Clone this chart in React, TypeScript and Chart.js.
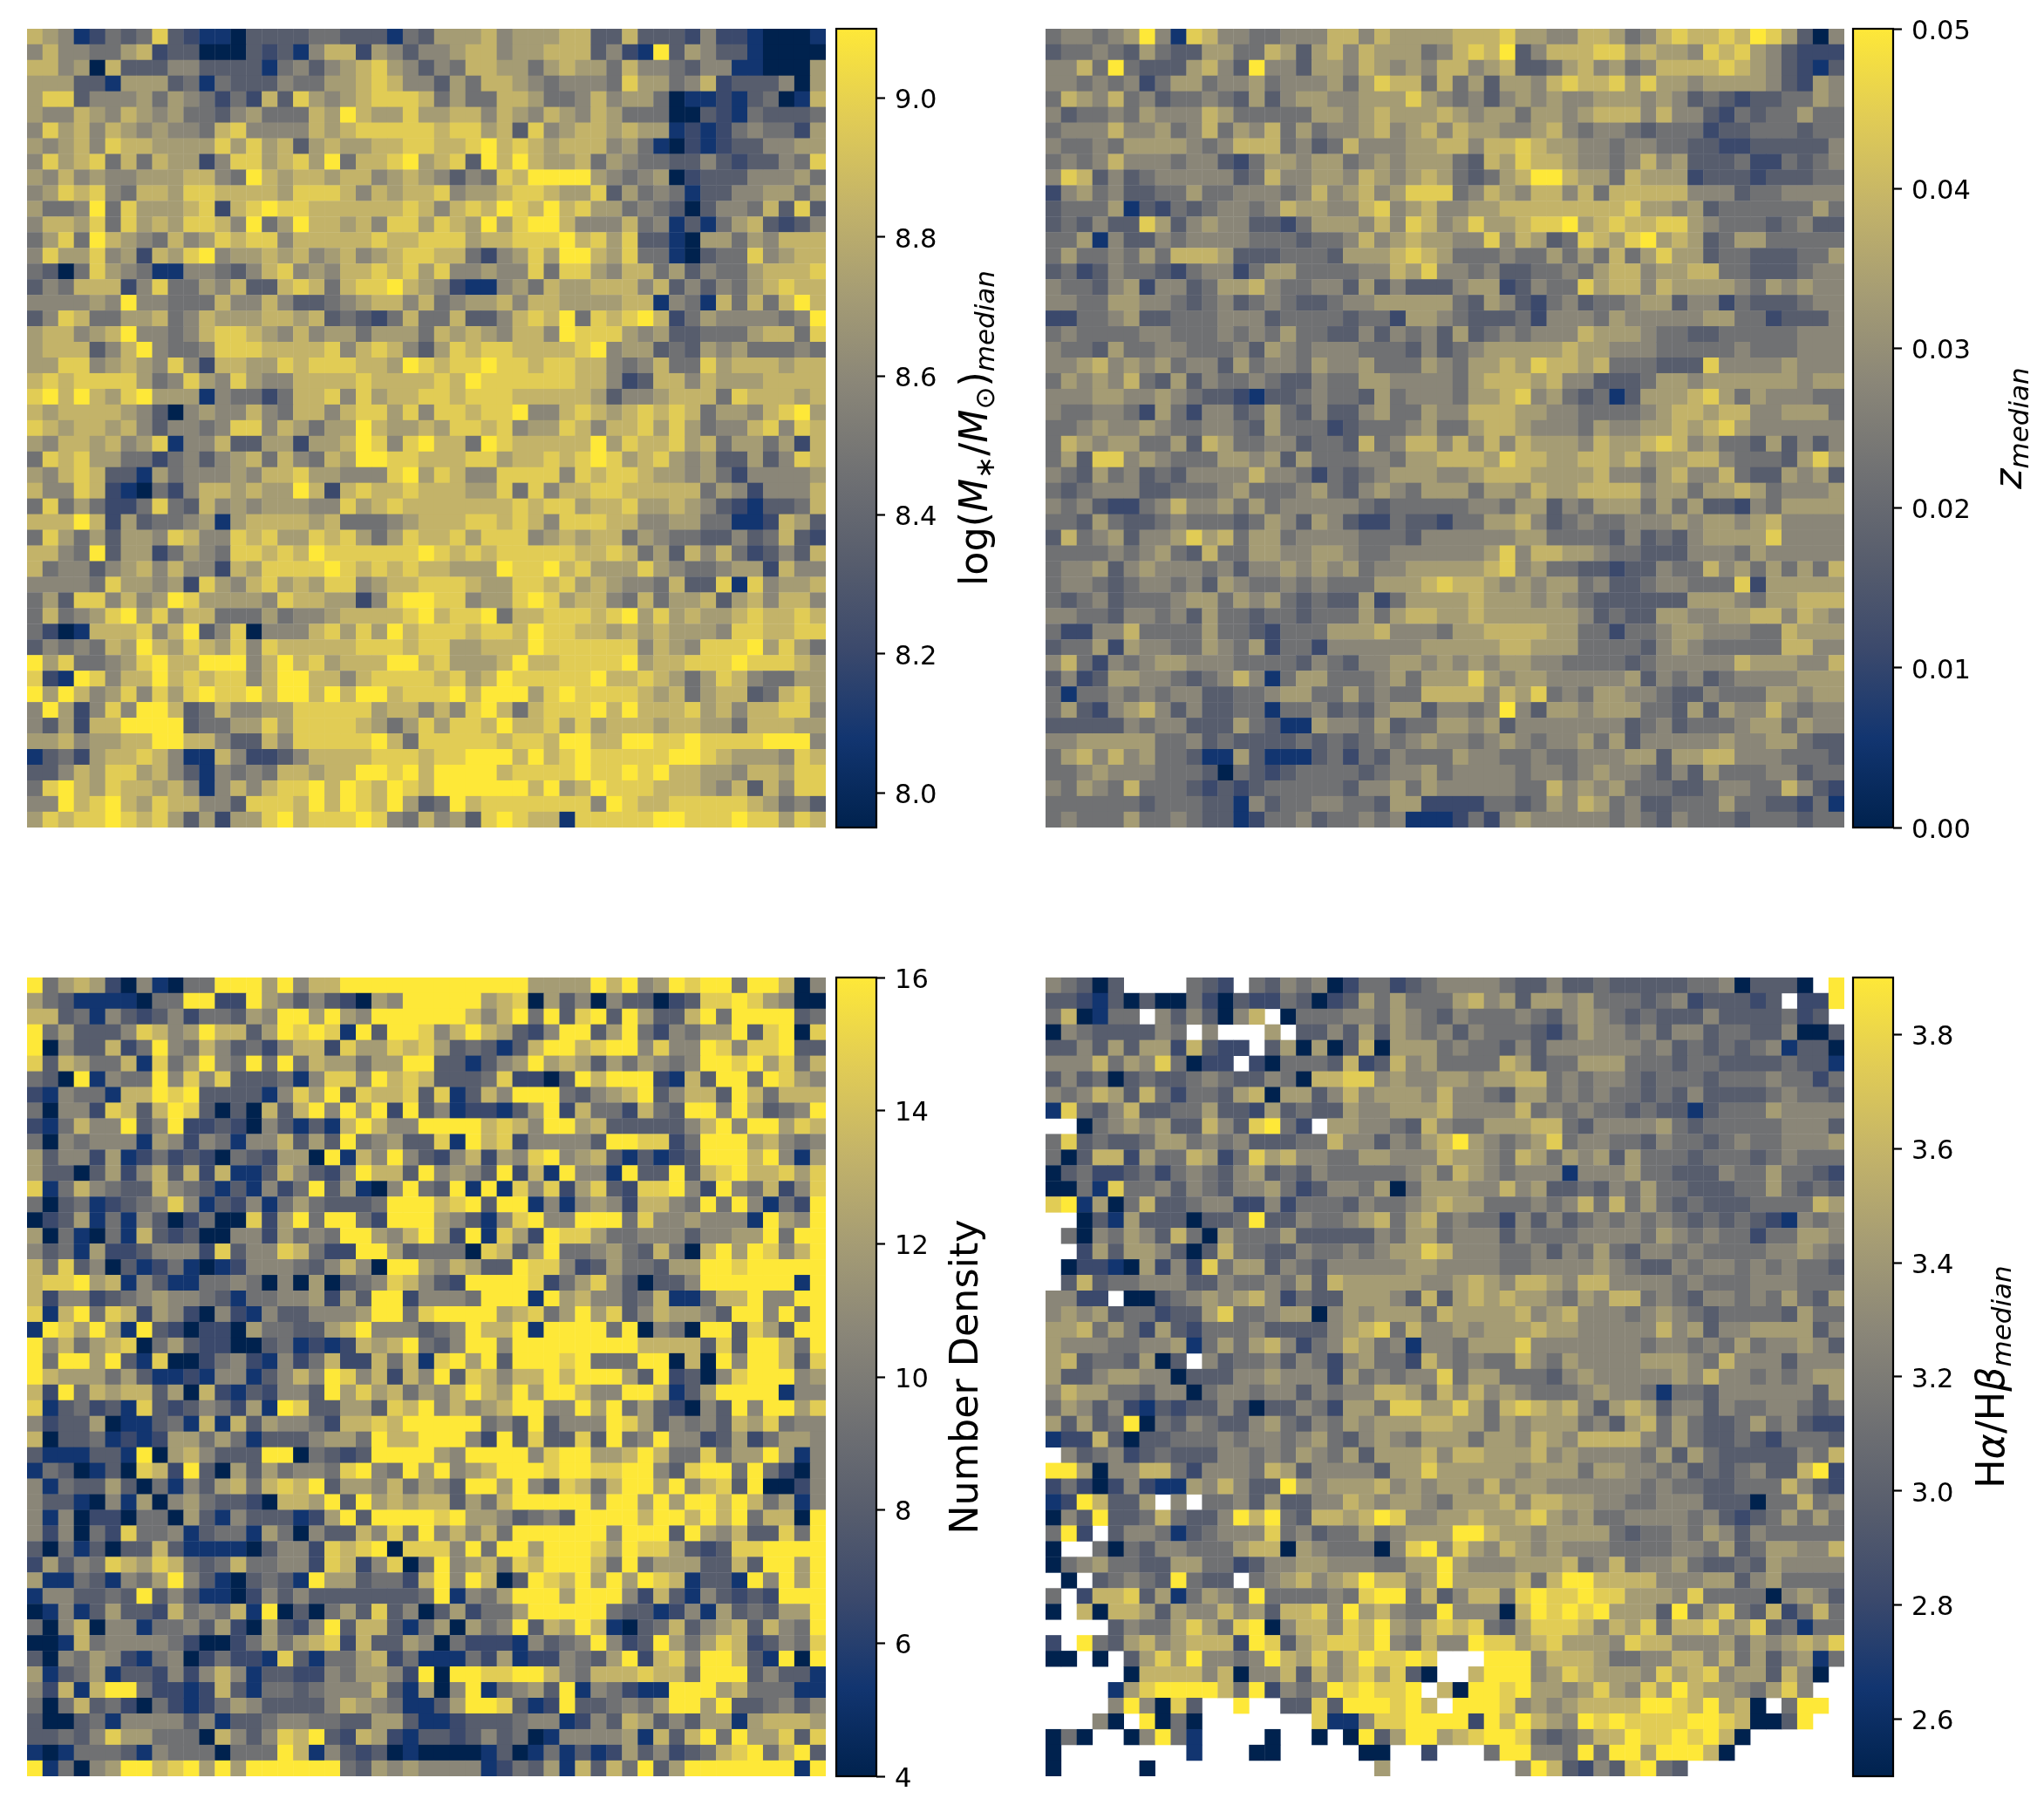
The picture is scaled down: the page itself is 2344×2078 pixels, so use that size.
import React, { useEffect, useRef } from "react";
import { Chart, registerables } from "chart.js";

Chart.register(...registerables);

// Each digit is one cell: 0 = bottom of the colour bar, 9 = top, "." = empty cell.
const massRows = [
"7651243483 2110333344 3331436667 5666773373 3325221000 1",
"5755446723 3000323157 7265355677 5667773521 9365331000 0",
"7756073335 5333314535 6786535477 6646766475 5435511000 6",
"6663316663 4143335446 6787553647 7654555486 6457233350 6",
"6883555646 5424273865 6788874644 7764457566 4011213401 7",
"6557657656 4435644476 9766866775 7657657644 4003214333 4",
"5867576565 5478555576 7888887886 7385677676 6121245442 6",
"6567587766 6686867367 6677887789 7876777564 1021233556 6",
"5867847476 6258867869 4778967839 7976674654 4335323354 8",
"6575655666 7754976776 7756765354 8799996545 6023335556 4",
"5687854776 8877776888 7576778566 7887668364 5413355664 6",
"6445948666 7827898877 7777875787 9879786645 4303554738 3",
"5776848676 8875946977 6758868769 6899755574 5131467323 5",
"4684976547 5687885777 7787788867 7888978683 3106646577 7",
"5866856276 8956676756 7567887742 5686997684 4103448567 7",
"4304865411 5543578565 7787868556 5584886577 4635446777 8",
"3547772584 4657337874 7889765211 5647667775 7353546787 7",
"5555659554 4475575334 5677574566 7577666677 1541747479 7",
"3587446674 5766677673 4324744733 5787948789 7246555545 9",
"6775679554 5788765756 6466647676 5775988865 6334446774 8",
"6777357954 4588877778 5787536878 8777789566 3436564445 4",
"6688567658 5277668788 8776987889 8878877545 7448677767 7",
"7878888645 8658655777 7877778798 8888877523 7757666777 7",
"8979768966 6154424778 5867788788 8777776355 6777487776 7",
"7677776530 5655754775 7886858878 8955787678 7874665789 6",
"8767767535 5458857646 6976676887 8566875778 6864557858 7",
"6577675681 5573366266 7985897749 8777779687 7867466462 7",
"4878664424 5356747547 6998877788 6778789867 8656336358 7",
"6578733164 5556577866 5558968755 8888587887 6656425555 6",
"7558721042 5776766972 7877877766 8485778877 7774652555 7",
"4846422484 3756566655 8678777777 7878867786 6765321334 7",
"7779726344 5616777767 4445677788 7875888775 5664411276 3",
"4864636658 7558786687 8646877868 8856767746 5443353473 2",
"7754936624 6548878798 8888898787 8888877874 6375742353 7",
"7455356757 5527688889 8787877666 9889786668 6544566275 5",
"5555486656 2865786768 8567788876 6887867655 4733818566 7",
"4638857569 8666658776 6258998856 6898677547 4667367577 5",
"4745689685 7744464556 7777897889 4778887896 8676678778 7",
"4201777857 9358055578 6869788878 8798877676 7666588778 8",
"3545476976 8768587777 7888788667 7798888885 7658889686 4",
"9684456897 7999579786 7779978666 7977888896 7788898887 6",
"8219857797 8788579977 5788887867 9888889778 7646875446 6",
"9697568586 8988979979 7997888979 9968988887 6746773478 6",
"5962585997 3475566888 8867757589 7478889797 7786757788 5",
"5362779999 3446686888 8764686887 9778686777 6776647776 6",
"6675667799 7753375888 8897488888 7887997799 8898888999 5",
"1342677875 1175223577 7788878899 9797898888 8998766658 7",
"3357688675 3154547767 7998979999 7888898898 9776657768 8",
"4897687767 5157578897 9879879999 9979679888 7776573758 8",
"5597897687 7553888797 9879634978 8888885987 7888887645 3",
"6878898786 3626689788 8985475638 9877188888 9988898868 7",
];

const redshiftRows = [
"4554569518 7554455577 5766667778 6655776457 8778798630 5",
"3445436433 6644763675 7666457879 3577788676 6587865322 2",
"5574943336 7539553665 7656577567 3346756457 7778765321 3",
"5545452466 4556455564 6877474636 6578778686 6566665326 5",
"4765745344 5436356655 6668654535 6565566656 5343233446 5",
"5344546555 7644444665 6766676566 4665677757 5532434464 4",
"4555755645 7465746455 6756757665 5675455434 4423344434 4",
"5445466665 4577745347 5556677577 8766554554 4332233333 5",
"4545755545 5324665664 5656664376 8776554575 6333422434 5",
"5873534555 5534755665 7656764346 7997664766 6233323334 4",
"2564533446 4455545756 7568884576 5775747777 7555344555 5",
"3444613243 4554576655 7856755667 7777777866 5634444446 4",
"3435338635 6553324666 5758756866 7889678778 8654443453 3",
"4461533545 5554443445 7567665585 7634876896 7634664444 4",
"4644546477 7633344436 6678764445 4464647468 6634433344 6",
"3423544324 5524664444 5576855453 3445467756 6774433345 5",
"5443562553 4667544553 6353335662 3544867757 6666546565 5",
"5544665543 4534543345 5666664365 3245344566 3552433345 5",
"2244563344 4555344443 4426654333 4255546555 5566442333 5",
"4544445544 4545464433 5354536345 4555766654 4334444455 5",
"5443644554 4453654555 4443534566 6667665554 4444544455 5",
"5567565645 5364554655 6444654667 6877674443 3385555655 5",
"4656574363 5445433544 6655554677 7675533346 6566666656 6",
"5556655654 3321334544 3645554667 8564341366 6786465554 4",
"5445542642 5534643533 5644655777 6655444456 7767755666 4",
"4456556544 5543644423 4445644677 6555465566 7678655555 5",
"4765664463 7644553443 7457757575 7666576678 7564436353 5",
"4638856544 4665636444 5546677768 7766776756 6775444368 6",
"5436453435 5557554243 4566655677 7666675546 7557433656 3",
"4345553344 4564445643 5654666466 5766777756 6466764555 6",
"5453224575 5646455555 4344444554 6635466646 4633254666 6",
"4436433454 4434653653 2243324466 7534544555 6566567555 5",
"3745635568 6746645555 4443555555 6644443534 3566668555 5",
"4444545643 7446655665 4455555568 5776654433 3555465555 5",
"4556356555 4535565656 4556666678 5644332335 4475646464 7",
"4554345545 3654454544 4666787765 6566453345 5444826666 6",
"4345344456 6465643433 6246666766 6565433333 3666546677 7",
"5544355453 6443443444 6467766766 6666534336 6556677576 5",
"4225574444 6443244466 6755546677 7766442445 6655544766 6",
"3446265544 6546244255 5555666667 7666444435 6544444775 5",
"5742545665 5544443543 5566565656 6554444345 5555766655 7",
"3523665543 4575146644 4564666865 6655555635 4534555566 6",
"4144545455 3344566446 4544777757 6845466554 3354446656 6",
"4632567535 3344144534 3566355459 5366566644 3636557545 5",
"3333354553 3364311655 4634466563 5555555345 3444566465 5",
"5566666445 3433334343 4545655456 5455646355 5556556643 3",
"4675756443 1163111342 4354446554 4544555663 6677555444 3",
"4456555444 3043234444 3455645555 4554565543 5364445534 4",
"5465474443 2323444443 5564655555 4475656444 3345544753 2",
"4444443444 3315344554 4366222244 3465764533 4446443324 1",
"4544464454 3312445344 5451112425 6555554543 5444344434 4",
];

const densityRows = [
"9467620510 4499969577 9999999999 9966669795 6989949970 5",
"6431111044 9922965353 2065999996 7806350533 0238898650 0",
"7734153235 2443659969 6599999975 7949389396 3379499993 4",
"9463335875 6977369898 1939985797 6325993694 2546693890 8",
"9053372495 4753425772 8668786343 1379978995 8559858893 3",
"8376447184 6954949476 6466993313 5696763646 5459989684 7",
"4309154495 8583334158 8597873334 8220397999 2173994986 5",
"2154417798 9333315869 3877838137 5999435679 3577397477 7",
"4055287379 8303073795 9692935122 1369274427 4399596345 9",
"2147559359 2232053131 7975599997 8759967333 3357959968 7",
"4054555165 2541557363 9456338197 8255553998 8249996754 5",
"6355261242 3204326609 1759532572 6589567313 1239997951 6",
"6330362573 7271137532 5977395653 9271955193 3937897786 8",
"8147543375 4313152493 6105943919 1858268328 8952954725 8",
"4034123458 5132514643 3349997893 9915156527 7549495142 9",
"0236141530 2400826949 9429996531 5895599948 5565551965 9",
"6041041732 3005526454 9965796291 8629886445 5535566949 9",
"5341622355 5283558742 2996344408 7369445643 7407969857 9",
"7483503124 1012555435 7509965763 3988523644 3669989999 9",
"7889671531 1445405060 3458753299 9982468530 3359999991 9",
"7255234565 5431445562 6399255549 9919675534 7114779559 9",
"8179487265 2052153355 5699489999 6784696835 7665399594 9",
"1986961932 0220644336 7955534597 7919999490 5409938639 9",
"9574678046 3220034121 2767943599 5999999997 7773839974 9",
"9499693180 0245215247 2274718969 3999894449 9070959973 8",
"9766646311 2155135759 8572759387 5779799963 9230589995 6",
"7294767736 0721325539 6867465797 6969975599 7136999915 5",
"8134231832 3542619833 6638795756 7995596946 3205395996 8",
"5233601134 1717365542 7787999994 5393555986 3545376845 5",
"7033412126 6464133356 6497799952 9383383945 9552362466 5",
"3111331906 7533399043 2399996599 9958996679 7448466961 5",
"1430130872 9306364554 8954969567 9998998899 5389949420 5",
"5143363041 5367478793 6657465399 6953874799 6957839002 5",
"5331051605 6433207769 3967677364 7999995996 9699797461 5",
"5150220440 6315333126 9399998966 5345399997 9979794770 9",
"5250428445 1344164053 3758495757 4999999599 9396573384 9",
"3041303373 1111035528 7890888594 9969998698 8632388999 9",
"2635487687 4347445528 7258049567 4879997494 6663373996 9",
"6114315469 5310343196 6344279597 0398796969 8713319596 9",
"1553343935 3110253533 3333349154 6999699952 7315323299 9",
"0151363327 4547190304 6383503624 4699999433 1251634366 9",
"4057055144 5362063259 3773146064 5937697103 4735673754 9",
"0017455554 2002464678 2733650422 2153459523 9646872354 8",
"3054652145 0242218314 4672411142 6122543692 7859973190 9",
"6134613325 2575133225 4665290998 8997547778 7749993533 1",
"5271799422 1273144345 5573160591 4563915421 1999674441 1",
"4047342042 1246533335 7654113699 8312933454 6996933453 5",
"3003415555 3513345544 3366311233 3455125376 3536616777 6",
"3343586644 4075358793 2762133235 3401555561 7379496683 8",
"1014443154 4404449715 3230100001 3014131263 5234789479 3",
"9140569978 9696999999 4365655551 2436173749 3699999991 9",
];

const balmerRows = [
"54303....4 32.4354502 4423455554 3353343333 344503330. 9",
"3321303004 2032243023 6464446756 3665644434 5233323.22 9",
"470144.535 3057.04445 5465435444 5435654343 3353333423 .",
"054333354. 5...6.3353 6365453544 4324655453 5534433500 3",
"3353636627 322.360603 7066645443 5355555545 3434345133 0",
"5557465840 22.2044437 2375644447 6344666444 3443333433 1",
"3534034334 5433540778 8565566566 7745455434 4434445442 4",
"5457637424 4367066357 5666575543 6645454434 3533334544 3",
"1843573344 6332634336 5566675555 7454544343 3134446555 5",
"..04565633 7538942.66 5543754466 6774355556 4344444555 3",
"4834334664 5453334475 5354679654 5684554435 4434544555 6",
"4037726447 6248675544 6655576654 7646563644 4344434544 4",
"0342234245 4356343544 4445647654 5551555644 3335446443 2",
"0041844535 4355642355 4604666557 5633435464 4333446434 3",
"8916047334 5522524443 5445676644 4545747464 3433344447 6",
"..03163330 3349335445 6746745442 5353454545 4343432154 5",
".405465374 0644463333 3546645553 5444555546 5454424466 5",
"..26366530 3744335445 4566875554 4535464355 4544445565 4",
".022106252 8466354355 5556655554 4555565433 5455454544 3",
".373445553 3544546376 6666556765 7765775555 4544455544 4",
"5522.00345 6567524336 6653736767 6654657745 4355454643 6",
"5656344233 6844566056 5666476666 7567555456 5434444364 4",
"6674642632 4445333356 7847556566 6766555557 5635566663 5",
"6555445561 4646752457 6451554666 8555555545 5454645565 3",
"673443603. 5344535425 6442754544 7546555566 6547555355 5",
"6335665503 3355655526 4545584664 4435655555 6575545456 6",
"5766443550 4554553545 5776475756 5444565541 4435555553 6",
"4653521323 3530335426 6488668647 8767536763 5535445543 4",
"6363490435 4335643546 5666776646 5666453674 6433464532 2",
"1227303344 4545545643 5654666466 5765777754 6433432444 3",
".534523433 3554546546 3666757766 6756555546 3643333354 7",
"9960557742 5554763555 5366866666 5666466554 5343453379 2",
"2420252116 5753396566 6756566575 6655555545 4433444753 2",
"1297336.5. 4453633557 6566546667 5776655445 5533304474 5",
"0539334743 3597943776 7985566766 7865644555 5453234646 4",
"492.355413 4555845344 6456669976 6566664344 5465354444 4",
"0..4043554 4467706544 4058958657 6565554444 5546346655 7",
"0456443366 4423556655 5446696555 6667457455 6433436555 5",
".0.3454394 33.4567567 9775696666 7479977775 5566356444 4",
"4.27783614 6549444454 8994735774 8988988666 5844440565 3",
"0.70776365 5756377859 6754495550 7989896663 9468437247 4",
"....354468 6489057758 7965787843 6888757684 7785683414 4",
"2.94367567 7729836788 7954755988 6786665877 5556465676 8",
"00.0.36869 5545976857 98898...99 9577764455 7757463561 4",
".....07777 5705573757 86830..799 9568766658 6785663750 .",
"....168999 9749254598 9889.70998 9665686586 976654685. .",
"....595083 ..9..33839 99897.9998 5656777799 879670.499 .",
"...50.9040 .......811 5889999297 9765989888 899870039. .",
"040..05941 ....0..0.0 9369967899 8434577988 98970..... .",
"0........1 ...00..... 00..2...49 9554949969 9970...... .",
"0.....0... .......... .6........ 5973253894 3......... .",
];

const CIVIDIS = ["#00224e", "#123570", "#3b496c", "#575d6d", "#707173", "#8a8678", "#a59c74", "#c3b369", "#e1cc55", "#fee838"];
const massTicks = [8.0, 8.2, 8.4, 8.6, 8.8, 9.0];
const redshiftTicks = [0, 0.01, 0.02, 0.03, 0.04, 0.05];
const densityTicks = [4, 6, 8, 10, 12, 14, 16];
const balmerTicks = [2.6, 2.8, 3.0, 3.2, 3.4, 3.6, 3.8];

type Seg = { t: string; it?: boolean; sub?: boolean };
const massLabel: Seg[] = [{ t: "log(" }, { t: "M", it: true }, { t: "∗", sub: true }, { t: "/" }, { t: "M", it: true }, { t: "⊙", sub: true }, { t: ")" }, { t: "median", it: true, sub: true }];
const redshiftLabel: Seg[] = [{ t: "z", it: true }, { t: "median", it: true, sub: true }];
const densityLabel: Seg[] = [{ t: "Number Density" }];
const balmerLabel: Seg[] = [{ t: "H" }, { t: "α", it: true }, { t: "/H" }, { t: "β", it: true }, { t: "median", it: true, sub: true }];

const PANELS = [
  { rows: massRows, min: 7.95, max: 9.1, ticks: massTicks, dec: 1, label: massLabel, x: 31, y: 33, cb: 959, base: 1132 },
  { rows: redshiftRows, min: 0, max: 0.05, ticks: redshiftTicks, dec: 2, label: redshiftLabel, x: 1199, y: 33, cb: 2125, base: 2318 },
  { rows: densityRows, min: 4, max: 16, ticks: densityTicks, dec: 0, label: densityLabel, x: 31, y: 1121, cb: 959, base: 1121 },
  { rows: balmerRows, min: 2.5, max: 3.9, ticks: balmerTicks, dec: 1, label: balmerLabel, x: 1199, y: 1121, cb: 2125, base: 2298 },
];

const SIZE = 916;
const GRID = 51;
const CB_W = 46;
const FONT = "'DejaVu Sans'";
const TICK_SIZE = 30.5;

function colorAt(f: number) {
  const p = Math.max(0, Math.min(1, f)) * (CIVIDIS.length - 1);
  const i = Math.min(CIVIDIS.length - 2, Math.floor(p));
  const a = CIVIDIS[i], b = CIVIDIS[i + 1], k = p - i;
  const ch = (s: string, o: number) => parseInt(s.slice(o, o + 2), 16);
  const m = (o: number) => Math.round(ch(a, o) + (ch(b, o) - ch(a, o)) * k);
  return `rgb(${m(1)},${m(3)},${m(5)})`;
}

function Panel({ p }: { p: (typeof PANELS)[number] }) {
  const heat = useRef<HTMLCanvasElement>(null);
  const bar = useRef<HTMLCanvasElement>(null);
  const PAD_TOP = 24, PAD_LEFT = 4, AXIS_W = 170;

  useEffect(() => {
    const span = p.max - p.min;
    const pts: { x: number; y: number; v: number }[] = [];
    p.rows.forEach((row, r) => {
      row.replace(/ /g, "").split("").forEach((ch, c) => {
        if (ch !== "." && c < GRID) pts.push({ x: c + 0.5, y: r + 0.5, v: p.min + (Number(ch) / 9) * span });
      });
    });
    const hc = new Chart(heat.current!, {
      type: "scatter",
      data: {
        datasets: [{
          data: pts,
          pointStyle: "rect",
          pointRadius: (SIZE / GRID + 0.4) / Math.SQRT2,
          pointBorderWidth: 0,
          pointBackgroundColor: pts.map((q) => colorAt((q.v - p.min) / span)),
        }],
      },
      options: {
        animation: false, responsive: false, devicePixelRatio: 1,
        layout: { padding: 0, autoPadding: false },
        plugins: { legend: { display: false }, tooltip: { enabled: false } },
        scales: {
          x: { type: "linear", min: 0, max: GRID, display: false },
          y: { type: "linear", min: 0, max: GRID, reverse: true, display: false },
        },
      },
    });

    const labelPlugin = {
      id: "barLabel",
      afterDraw(chart: any) {
        const { ctx, chartArea, scales } = chart;
        ctx.save();
        ctx.strokeStyle = "#000";
        ctx.lineWidth = 2.2;
        ctx.strokeRect(chartArea.left, chartArea.top, chartArea.right - chartArea.left, chartArea.bottom - chartArea.top);

        // tick labels, placed through the axis so the digits sit centred on their tick marks
        ctx.fillStyle = "#000";
        ctx.textAlign = "left";
        ctx.textBaseline = "alphabetic";
        ctx.font = `${TICK_SIZE}px ${FONT}`;
        p.ticks.forEach((v) => {
          ctx.fillText(v.toFixed(p.dec), chartArea.right + 21, scales.y.getPixelForValue(v) + 11.7);
        });

        const big = 44.4, small = 31;
        const fontOf = (s: Seg) => `${s.it ? "italic " : ""}${s.sub ? small : big}px ${FONT}`;
        let total = 0;
        p.label.forEach((s) => { ctx.font = fontOf(s); total += ctx.measureText(s.t).width; });
        const bx = p.base - (p.cb - PAD_LEFT);
        const cy = (chartArea.top + chartArea.bottom) / 2;
        ctx.translate(bx, cy);
        ctx.rotate(-Math.PI / 2);
        let x = -total / 2;
        p.label.forEach((s) => {
          ctx.font = fontOf(s);
          ctx.fillText(s.t, x, s.sub ? 8 : 0);
          x += ctx.measureText(s.t).width;
        });
        ctx.restore();
      },
    };

    const bc = new Chart(bar.current!, {
      type: "bar",
      data: {
        labels: [""],
        datasets: [{
          data: [[p.min, p.max]] as any,
          barPercentage: 1,
          categoryPercentage: 1,
          borderWidth: 0,
          backgroundColor: (ctx: any) => {
            const a = ctx.chart.chartArea;
            if (!a) return CIVIDIS[5];
            const g = ctx.chart.ctx.createLinearGradient(0, a.bottom, 0, a.top);
            CIVIDIS.forEach((c, i) => g.addColorStop(i / (CIVIDIS.length - 1), c));
            return g;
          },
        }],
      },
      options: {
        animation: false, responsive: false, devicePixelRatio: 1,
        layout: { padding: { top: PAD_TOP, bottom: PAD_TOP, left: PAD_LEFT, right: 0 }, autoPadding: false },
        plugins: { legend: { display: false }, tooltip: { enabled: false } },
        scales: {
          x: { display: false },
          y: {
            type: "linear", position: "right", min: p.min, max: p.max,
            afterBuildTicks: (s: any) => { s.ticks = p.ticks.map((v) => ({ value: v })); },
            afterFit: (s: any) => { s.width = AXIS_W; s.paddingTop = 0; s.paddingBottom = 0; },
            border: { display: false },
            grid: { display: true, drawOnChartArea: false, drawTicks: true, tickLength: 10, tickWidth: 2.2, tickColor: "#000" },
            ticks: { display: false },
          },
        },
      },
      plugins: [labelPlugin],
    });
    return () => { hc.destroy(); bc.destroy(); };
  }, [p]);

  return (
    <>
      <canvas ref={heat} width={SIZE} height={SIZE} style={{ position: "absolute", left: p.x, top: p.y, width: SIZE, height: SIZE }} />
      <canvas ref={bar} width={PAD_LEFT + CB_W + AXIS_W} height={SIZE + 2 * PAD_TOP}
        style={{ position: "absolute", left: p.cb - PAD_LEFT, top: p.y - PAD_TOP, width: PAD_LEFT + CB_W + AXIS_W, height: SIZE + 2 * PAD_TOP }} />
    </>
  );
}

export default function App() {
  return (
    <div style={{ position: "absolute", left: 0, top: 0, width: 2344, height: 2078, background: "#fff", overflow: "hidden" }}>
      {PANELS.map((p, i) => <Panel key={i} p={p} />)}
    </div>
  );
}
